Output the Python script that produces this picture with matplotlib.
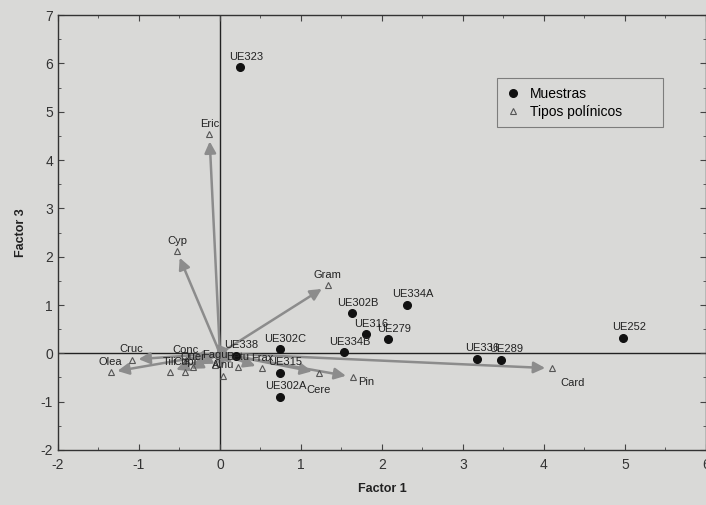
import numpy as np
import matplotlib
matplotlib.use('Agg')
import matplotlib.pyplot as plt
from matplotlib.ticker import MultipleLocator

plt.rcParams['font.family'] = ['Liberation Sans', 'DejaVu Sans']
plt.rcParams['axes.unicode_minus'] = False

# muestras (Factor 1, Factor 3)
sample_names = ['UE323', 'UE302B', 'UE334A', 'UE316', 'UE279', 'UE334B', 'UE336',
                'UE289', 'UE252', 'UE302C', 'UE315', 'UE302A', 'UE338']
sample_f1 = [0.25, 1.63, 2.31, 1.80, 2.08, 1.53, 3.17, 3.47, 4.98, 0.74, 0.74, 0.74, 0.20]
sample_f3 = [5.92, 0.83, 1.01, 0.39, 0.29, 0.02, -0.11, -0.13, 0.32, 0.08, -0.40, -0.90, -0.05]

# tipos polinicos
pollen_names = ['Eric', 'Cyp', 'Gram', 'Card', 'Pin', 'Cere', 'Olea', 'Cruc', 'Conc',
                'Tili', 'Cupr', 'Quer', 'Fagu', 'Alnu', 'Betu', 'Frax']
pollen_f1 = [-0.13, -0.53, 1.33, 4.10, 1.64, 1.22, -1.35, -1.09, -0.42,
             -0.62, -0.43, -0.33, -0.06, 0.04, 0.22, 0.52]
pollen_f3 = [4.53, 2.11, 1.41, -0.31, -0.49, -0.40, -0.39, -0.13, -0.14,
             -0.39, -0.39, -0.29, -0.25, -0.46, -0.29, -0.31]

bg = '#d9d9d7'
fig = plt.figure(figsize=(7.06, 5.05), dpi=100, facecolor=bg)
ax = fig.add_axes([0.082, 0.109, 0.918, 0.861], facecolor=bg)

ax.set_xlim(-2, 6)
ax.set_ylim(-2, 7)
ax.axhline(0, color='#222222', lw=1.0, zorder=1)
ax.axvline(0, color='#222222', lw=1.0, zorder=1)

# flechas desde el origen
for x, y in zip(pollen_f1, pollen_f3):
    ax.annotate('', xy=(x, y), xytext=(0, 0),
                arrowprops=dict(arrowstyle='-|>', color='#8c8c8c', lw=1.8,
                                mutation_scale=17, shrinkA=0, shrinkB=5),
                zorder=2)

ax.plot(pollen_f1, pollen_f3, linestyle='none', marker='^', ms=5, mfc='none',
        mec='#555555', mew=0.8, zorder=3, label='Tipos polínicos')
ax.plot(sample_f1, sample_f3, linestyle='none', marker='o', ms=5.5, color='#111111',
        zorder=4, label='Muestras')

# posicion de etiquetas: desplazamiento en puntos y alineacion
special = {'Pin': ((4, -7), 'left'), 'Card': ((6, -14), 'left'), 'Cere': ((0, -16), 'center')}
for n, x, y in zip(pollen_names, pollen_f1, pollen_f3):
    off, ha = special.get(n, ((0, 4), 'center'))
    ax.annotate(n, (x, y), xytext=off, textcoords='offset points', ha=ha,
                va='bottom', fontsize=8, color='#222222', zorder=5)

for n, x, y in zip(sample_names, sample_f1, sample_f3):
    ax.annotate(n, (x, y), xytext=(4, 4), textcoords='offset points', ha='center',
                va='bottom', fontsize=8, color='#222222', zorder=5)

ax.xaxis.set_major_locator(MultipleLocator(1))
ax.yaxis.set_major_locator(MultipleLocator(1))
ax.xaxis.set_minor_locator(MultipleLocator(0.5))
ax.yaxis.set_minor_locator(MultipleLocator(0.5))
ax.tick_params(which='both', direction='in', top=True, right=True,
               labelsize=10, labelcolor='#333333', color='#444444')
ax.tick_params(which='major', length=4)
ax.tick_params(which='minor', length=2)
ax.tick_params(axis='x', pad=6)
for s in ax.spines.values():
    s.set_color('#333333')
    s.set_linewidth(1.0)

ax.set_xlabel('Factor 1', fontsize=9, fontweight='bold', color='#222222', labelpad=8)
ax.set_ylabel('Factor 3', fontsize=9, fontweight='bold', color='#222222', labelpad=10)

h, l = ax.get_legend_handles_labels()
leg = ax.legend(h[::-1], l[::-1], loc='upper left',
                bbox_to_anchor=(0.677, 0.736, 0.256, 0.119), mode='expand',
                fontsize=10, frameon=True, fancybox=False, borderpad=0.6,
                handlelength=1.2, handletextpad=0.6, labelspacing=0.3,
                borderaxespad=0)
leg.get_frame().set_facecolor(bg)
leg.get_frame().set_edgecolor('#666666')
leg.get_frame().set_linewidth(0.8)

fig.savefig('out.png', dpi=100, facecolor=bg)
